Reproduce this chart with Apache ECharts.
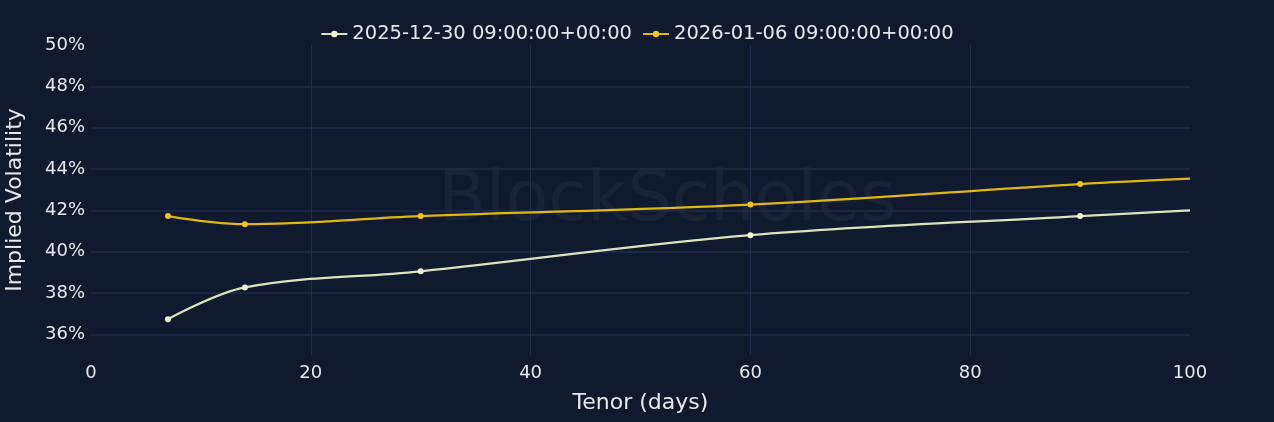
<!DOCTYPE html>
<html>
<head>
<meta charset="utf-8">
<script src="https://cdn.jsdelivr.net/npm/echarts@6/dist/echarts.min.js"></script>
<style>
  html, body { margin: 0; padding: 0; background: #0f1a2e; }
  #chart { width: 1274px; height: 422px; }
</style>
</head>
<body>
<div id="chart"></div>
<script>
// tenor in days
var tenors = [7, 14, 30, 60, 90, 100];
// implied vol (%) for each snapshot
var vol1230 = [36.73, 38.27, 39.05, 40.8, 41.72, 42.0];
var vol0106 = [41.72, 41.33, 41.72, 42.28, 43.27, 43.53];
var seriesNames = ['2025-12-30 09:00:00+00:00', '2026-01-06 09:00:00+00:00'];

var textColor = '#e6e8ee';
var gridColor = '#1f2d4a';
var font = 'DejaVu Sans';

// last point has no marker in the original
function toPoints(vals) {
  return tenors.map(function (t, i) {
    var p = { value: [t, vals[i]] };
    if (i === tenors.length - 1) p.symbol = 'none';
    return p;
  });
}

var chart = echarts.init(document.getElementById('chart'));
chart.setOption({
  backgroundColor: '#0f1a2e',
  textStyle: { fontFamily: font },
  graphic: [{
    type: 'text',
    left: 438,
    top: 167,
    z: 0,
    style: {
      text: 'BlockScholes',
      fontSize: 70,
      fontFamily: font,
      fill: 'rgba(255,255,255,0.045)'
    }
  }],
  legend: {
    top: 19,
    left: 'center',
    itemWidth: 26,
    itemHeight: 8,
    itemGap: 10,
    textStyle: { color: textColor, fontSize: 19.5, fontFamily: font },
    data: seriesNames
  },
  grid: { left: 91, right: 84, top: 45, bottom: 67, outerBoundsMode: 'none', containLabel: false },
  xAxis: {
    type: 'value',
    min: 0,
    max: 100,
    interval: 20,
    name: 'Tenor (days)',
    nameLocation: 'middle',
    nameGap: 37,
    nameTextStyle: { color: textColor, fontSize: 22, fontFamily: font },
    axisLine: { show: false },
    axisTick: { show: false },
    axisLabel: { color: textColor, fontSize: 18, margin: 9, fontFamily: font },
    splitLine: {
      show: true,
      lineStyle: { color: ['transparent', gridColor, gridColor, gridColor, gridColor, 'transparent'], width: 1 }
    }
  },
  yAxis: {
    type: 'value',
    min: 35,
    max: 50,
    interval: 1,
    name: 'Implied Volatility',
    nameLocation: 'middle',
    nameGap: 65,
    nameTextStyle: { color: textColor, fontSize: 22, fontFamily: font },
    axisLine: { show: false },
    axisTick: { show: false },
    axisLabel: {
      color: textColor,
      fontSize: 18,
      margin: 6,
      fontFamily: font,
      formatter: function (v) { return (v % 2 === 0) ? v + '%' : ''; }
    },
    splitLine: {
      show: true,
      lineStyle: {
        color: ['transparent', gridColor, 'transparent', gridColor, 'transparent', gridColor,
                'transparent', gridColor, 'transparent', gridColor, 'transparent', gridColor,
                'transparent', gridColor, 'transparent', 'transparent'],
        width: 1.5
      }
    }
  },
  series: [
    {
      name: seriesNames[0],
      type: 'line',
      smooth: 0.35,
      data: toPoints(vol1230),
      symbol: 'circle',
      symbolSize: 6,
      z: 3,
      lineStyle: { color: '#dfe3bd', width: 2.2 },
      itemStyle: { color: '#f4f6cf' }
    },
    {
      name: seriesNames[1],
      type: 'line',
      smooth: 0.35,
      data: toPoints(vol0106),
      symbol: 'circle',
      symbolSize: 6,
      z: 3,
      lineStyle: { color: '#e2b710', width: 2.2 },
      itemStyle: { color: '#f2c414' }
    }
  ]
});
</script>
</body>
</html>
